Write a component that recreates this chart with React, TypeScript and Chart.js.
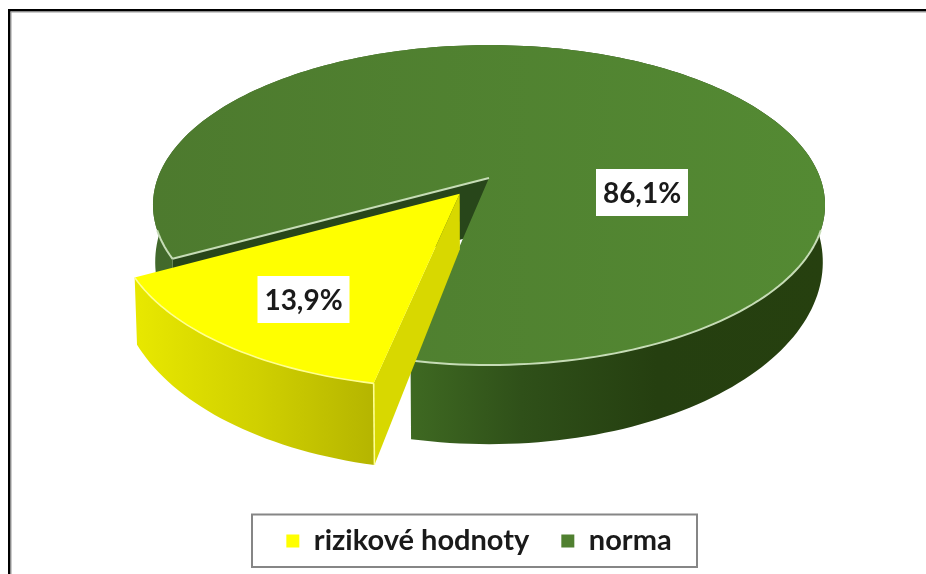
import React, { useEffect, useRef } from "react";
import { Chart, registerables } from "chart.js";

Chart.register(...registerables);

const categories = ["rizikové hodnoty", "norma"];
const shares = [13.9, 86.1];
const percentLabels = ["13,9%", "86,1%"];
const topColors = ["#ffff00", "#508030"];

const FONT = "Lato, 'Open Sans', sans-serif";
const TILT = -0.169;
const CX = 489;
const TOP = { cy: 178, R: 331.2, S: 155.4 };
const BOT = { cy: 231.3, R: 329, S: 176.9 };
const EXPLODE = [
  { u: -0.087, v: 0.1 },
  { u: 0, v: 0 },
];
const LABEL_AT = [
  { x: 303.5, y: 300 },
  { x: 642, y: 193 },
];

type Plane = { cy: number; R: number; S: number };

function project(p: Plane, u: number, v: number) {
  const w = 1 + TILT * v;
  return { x: CX + (p.R * u) / w, y: p.cy + (p.S * v) / w };
}

function arcPoints(p: Plane, a0: number, a1: number, ex: { u: number; v: number }) {
  const n = Math.max(8, Math.ceil(Math.abs(a1 - a0) * 40));
  const out: { x: number; y: number; v: number }[] = [];
  for (let i = 0; i <= n; i++) {
    const a = a0 + ((a1 - a0) * i) / n;
    const u = Math.cos(a);
    const v = Math.sin(a);
    out.push({ ...project(p, u + ex.u, v + ex.v), v });
  }
  return out;
}

function fillPoly(ctx: CanvasRenderingContext2D, pts: { x: number; y: number }[], fill: string | CanvasGradient) {
  ctx.beginPath();
  pts.forEach((q, i) => (i ? ctx.lineTo(q.x, q.y) : ctx.moveTo(q.x, q.y)));
  ctx.closePath();
  ctx.fillStyle = fill;
  ctx.fill();
}

function wallGradient(ctx: CanvasRenderingContext2D, i: number) {
  if (i === 0) {
    const g = ctx.createLinearGradient(135, 0, 378, 0);
    g.addColorStop(0, "#e8e800");
    g.addColorStop(0.5, "#d0d000");
    g.addColorStop(1, "#b4b400");
    return g;
  }
  const g = ctx.createLinearGradient(150, 0, 825, 0);
  g.addColorStop(0, "#42692c");
  g.addColorStop(0.38, "#3f6a22");
  g.addColorStop(0.55, "#2f5019");
  g.addColorStop(0.75, "#253f10");
  g.addColorStop(1, "#26400f");
  return g;
}

function topFill(ctx: CanvasRenderingContext2D, i: number) {
  if (i === 0) return topColors[0];
  const g = ctx.createLinearGradient(150, 0, 825, 0);
  g.addColorStop(0, "#4d7a2e");
  g.addColorStop(1, "#548a33");
  return g;
}

const piePlugin = {
  id: "perspectivePie",
  afterLayout(chart: any) {
    const legend = chart.legend;
    legend.left = 32;
    legend.right = 926;
    legend.top = 494.5;
  },
  beforeDraw(chart: any) {
    const ctx: CanvasRenderingContext2D = chart.ctx;
    ctx.save();
    ctx.fillStyle = "#ffffff";
    ctx.fillRect(0, 0, chart.width, chart.height);
    ctx.fillStyle = "#000000";
    ctx.fillRect(8, 9, chart.width, 2.5);
    ctx.fillRect(8, 9, 2.5, chart.height);
    ctx.fillStyle = "#9a9a9a";
    ctx.fillRect(10.5, 11.5, chart.width, 1);
    ctx.fillRect(10.5, 11.5, 1, chart.height);
    ctx.strokeStyle = "#868686";
    ctx.lineWidth = 2;
    ctx.strokeRect(252, 514.5, 445, 52.5);
    ctx.restore();
  },
  beforeDatasetsDraw(chart: any) {
    const ctx: CanvasRenderingContext2D = chart.ctx;
    const arcs = chart.getDatasetMeta(0).data;
    ctx.save();
    [1, 0].forEach((i) => {
      const el = arcs[i];
      const ex = EXPLODE[i];
      const a0 = el.startAngle;
      const a1 = el.endAngle;
      const top = arcPoints(TOP, a0, a1, ex);
      const bot = arcPoints(BOT, a0, a1, ex);

      // cut face that looks towards the viewer
      const tc = project(TOP, ex.u, ex.v);
      const bc = project(BOT, ex.u, ex.v);
      const te = project(TOP, Math.cos(a0) + ex.u, Math.sin(a0) + ex.v);
      const be = project(BOT, Math.cos(a0) + ex.u, Math.sin(a0) + ex.v);
      fillPoly(ctx, [tc, te, be, bc], i === 0 ? "#d8d800" : "#28461a");

      // outer wall
      fillPoly(ctx, [...top, ...bot.slice().reverse()], wallGradient(ctx, i));

      // top surface
      fillPoly(ctx, [tc, ...top], topFill(ctx, i));

      // bevel highlights on the near side
      ctx.lineWidth = i === 0 ? 1.6 : 2;
      ctx.strokeStyle = i === 0 ? "#ffff90" : "#c6dcb6";
      ctx.lineJoin = "round";
      ctx.beginPath();
      let pen = false;
      top.forEach((q) => {
        if (q.v > 0.3) {
          if (pen) ctx.lineTo(q.x, q.y);
          else ctx.moveTo(q.x, q.y);
          pen = true;
        } else pen = false;
      });
      ctx.stroke();
      ctx.beginPath();
      if (i === 1) {
        ctx.moveTo(tc.x, tc.y);
        ctx.lineTo(te.x, te.y);
      } else {
        ctx.moveTo(te.x, te.y);
        ctx.lineTo(be.x, be.y);
      }
      ctx.stroke();
    });
    ctx.restore();
    return false;
  },
  afterDraw(chart: any) {
    const ctx: CanvasRenderingContext2D = chart.ctx;
    ctx.save();
    ctx.font = `bold 28px ${FONT}`;
    ctx.textAlign = "center";
    ctx.textBaseline = "middle";
    percentLabels.forEach((text, i) => {
      const at = LABEL_AT[i];
      ctx.fillStyle = "#ffffff";
      ctx.fillRect(at.x - 46, at.y - 24, 92, 47);
      ctx.fillStyle = "#1a1a1a";
      ctx.fillText(text, at.x, at.y + 1);
    });
    ctx.restore();
  },
};

export default function App() {
  const ref = useRef<HTMLCanvasElement>(null);
  useEffect(() => {
    const chart = new Chart(ref.current!, {
      type: "pie",
      data: {
        labels: categories,
        datasets: [{ data: shares, backgroundColor: topColors, borderWidth: 0 }],
      },
      options: {
        animation: false,
        responsive: false,
        rotation: 191.4,
        plugins: {
          tooltip: { enabled: false },
          title: { display: false },
          legend: {
            display: true,
            position: "bottom",
            labels: {
              boxWidth: 13,
              boxHeight: 13,
              padding: 32,
              color: "#1a1a1a",
              font: { family: FONT, size: 29, weight: "bold" },
            },
          },
        },
      },
      plugins: [piePlugin as any],
    } as any);
    return () => chart.destroy();
  }, []);
  return (
    <canvas
      ref={ref}
      width={926}
      height={574}
      style={{ position: "fixed", left: 0, top: 0, width: 926, height: 574, display: "block" }}
    />
  );
}
